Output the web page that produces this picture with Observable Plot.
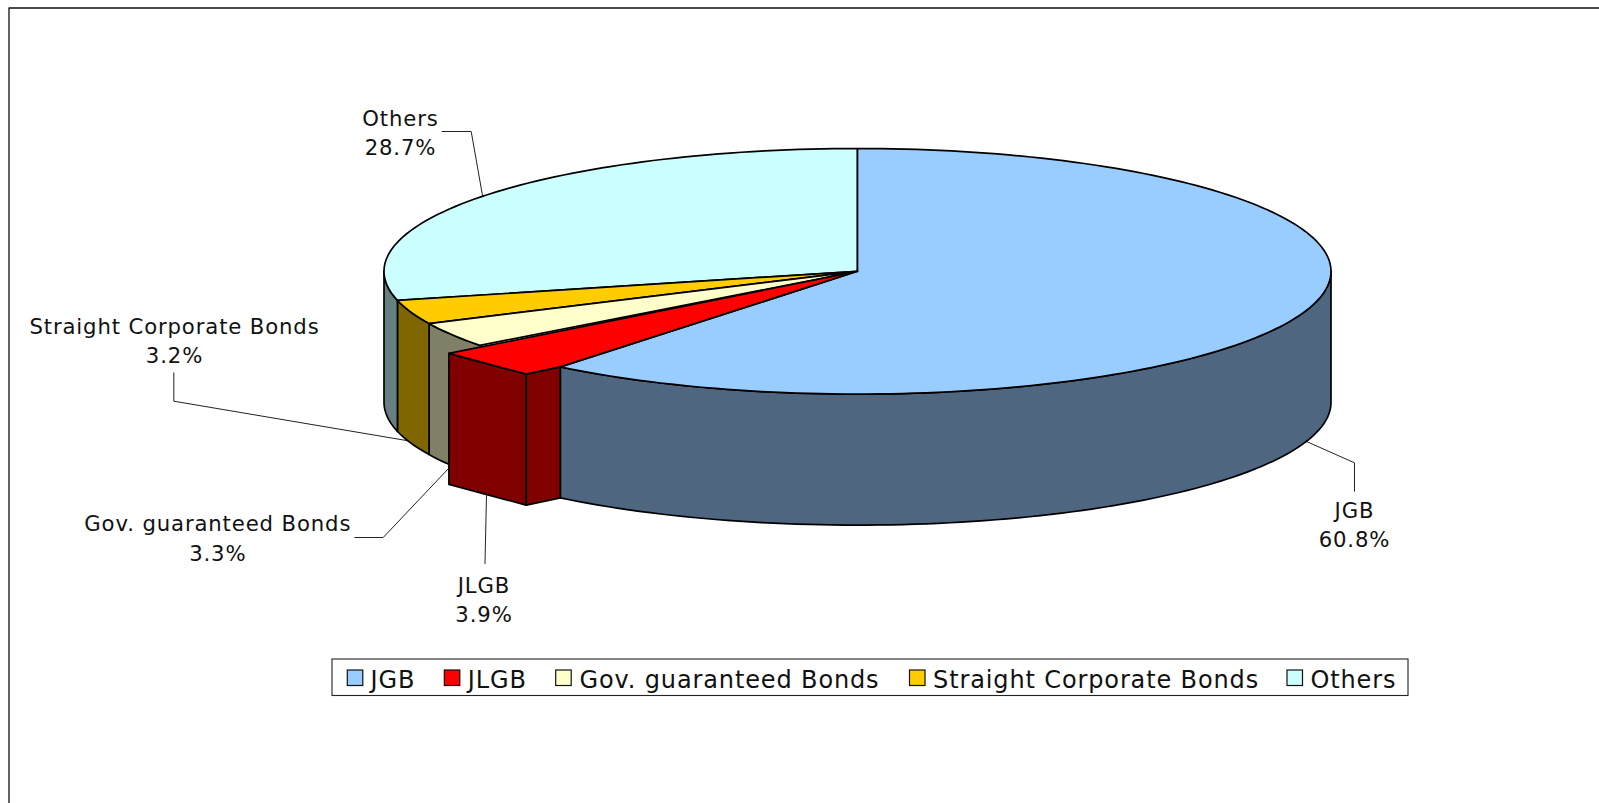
<!DOCTYPE html>
<html>
<head>
<meta charset="utf-8">
<style>
html,body{margin:0;padding:0;background:#fff;overflow:hidden}
svg{display:block}
</style>
<script src="https://cdn.jsdelivr.net/npm/d3@7"></script>
<script src="https://cdn.jsdelivr.net/npm/@observablehq/plot@0.6"></script>
</head>
<body>
<div id="chart"></div>
<script>
// ---- data ----
const categories = ["JGB", "JLGB", "Gov. guaranteed Bonds", "Straight Corporate Bonds", "Others"];
const shares = [60.8, 3.9, 3.3, 3.2, 28.7];
const topColors = ["#99CCFF", "#FF0000", "#FFFFCC", "#FFCC00", "#CCFFFF"];
const sideColors = ["#4F6680", "#800000", "#808066", "#806600", "#668080"];

// ---- layout (pixels of the 1599x803 picture) ----
const W = 1599, H = 803;
const pieLeft = 383.5, pieRight = 1330.5, pieTop = 148, pieBottom = 393.6, pieDepth = 131;
const depthU = pieDepth / ((pieBottom - pieTop) / 2);
const explode = {dx: -0.097, dy: -0.09, r: 0.96};

const labelFont = 21.2, legendFont = 24;
const fontFamily = "'DejaVu Sans', Verdana, sans-serif";
const labelPlace = [
  {cx: 1354, y1: 517.3, y2: 546.7, leader: [[1306, 441], [1354, 462.3], [1354, 490.7]]},
  {cx: 483.5, y1: 592, y2: 621, leader: [[486, 495], [484.5, 563]]},
  {cx: 217.3, y1: 530.7, y2: 560, leader: [[354.3, 537], [382.7, 537], [449.3, 466.7]]},
  {cx: 174, y1: 333.3, y2: 362.7, leader: [[173.3, 372.3], [173.3, 400.7], [410, 440.7]]},
  {cx: 400, y1: 125, y2: 154, leader: [[441.7, 131], [470.7, 131], [482.3, 196.7]]}
];
const legendBox = {x1: 332, x2: 1408, y1: 659, y2: 695.5};
const legendPlace = [
  {sw: 347.3, tx: 370},
  {sw: 444.3, tx: 467.3},
  {sw: 555.7, tx: 579},
  {sw: 909.5, tx: 932.6},
  {sw: 1287, tx: 1310}
];
const legendSwatch = 15.5, legendSwatchTop = 670, legendBaseline = 687.7;

// ---- geometry in unit-ellipse coordinates, drawn through the x and y scales ----
const cum = d3.cumsum(shares);
const angle = v => (v / 100) * 2 * Math.PI;
const slices = categories.map((name, i) => ({
  name, i,
  a0: angle(i ? cum[i - 1] : 0),
  a1: i === categories.length - 1 ? 2 * Math.PI : angle(cum[i])
}));
const on = a => ({x: Math.sin(a), y: Math.cos(a)});
const arc = (a0, a1) => {
  const n = Math.max(2, Math.ceil(Math.abs(a1 - a0) / 0.025));
  return d3.range(n + 1).map(k => on(a0 + (a1 - a0) * k / n));
};
const down = p => ({x: p.x, y: p.y - depthU});
const U = px => -1 + 2 * (px - pieLeft) / (pieRight - pieLeft);
const V = py => 1 - 2 * (py - pieTop) / (pieBottom - pieTop);
const P = ([x, y]) => ({x: U(x), y: V(y)});

const face = (pts, fill, strokeWidth = 1.7) =>
  Plot.line([...pts, pts[0]], {
    x: "x", y: "y", fill, stroke: "#000", strokeWidth,
    strokeLinejoin: "round", curve: "linear"
  });

const wall = (a0, a1, fill) => {
  const top = arc(a0, a1);
  return face([...top, ...top.slice().reverse().map(down)], fill);
};
const topFace = (s) => face([{x: 0, y: 0}, ...arc(s.a0, s.a1)], topColors[s.i]);

const [jgb, jlgb, gov, corp, others] = slices;
const shifted = a => {
  const p = on(a);
  return {x: explode.r * p.x + explode.dx, y: explode.r * p.y + explode.dy};
};
const redA = shifted(jlgb.a1), redB = shifted(jlgb.a0), redJoin = on(jlgb.a0);

const marks = [
  // chart-area border
  Plot.line([[8.5, H], [8.5, 7.5], [W, 7.5]].map(P), {x: "x", y: "y", stroke: "#111", strokeWidth: 1.3}),
  // leaders
  ...labelPlace.map(l => Plot.line(l.leader.map(P), {x: "x", y: "y", stroke: "#222", strokeWidth: 1})),
  // side walls of the pie (only the visible front half)
  wall(Math.PI / 2, jgb.a1, sideColors[0]),
  wall(gov.a0, gov.a1, sideColors[2]),
  wall(corp.a0, corp.a1, sideColors[3]),
  wall(others.a0, 1.5 * Math.PI, sideColors[4]),
  // top faces
  topFace(others), topFace(corp), topFace(gov), topFace(jgb),
  // the pulled-out JLGB slice
  face([redA, redB, down(redB), down(redA)], sideColors[1]),
  face([redB, redJoin, down(redJoin), down(redB)], sideColors[1]),
  face([{x: 0, y: 0}, redA, redB, redJoin], topColors[1]),
  // data labels
  Plot.text(categories.map((c, i) => ({...P([labelPlace[i].cx, labelPlace[i].y1]), t: c})), {
    x: "x", y: "y", text: "t", textAnchor: "middle", lineAnchor: "bottom",
    fontSize: labelFont, fontFamily, fill: "#111"
  }),
  Plot.text(shares.map((v, i) => ({...P([labelPlace[i].cx, labelPlace[i].y2]), t: v.toFixed(1) + "%"})), {
    x: "x", y: "y", text: "t", textAnchor: "middle", lineAnchor: "bottom",
    fontSize: labelFont, fontFamily, fill: "#111"
  }),
  // legend
  Plot.rect([legendBox], {
    x1: d => U(d.x1), x2: d => U(d.x2), y1: d => V(d.y1), y2: d => V(d.y2),
    fill: "#fff", stroke: "#222", strokeWidth: 1.1
  }),
  Plot.rect(legendPlace.map((l, i) => ({...l, c: topColors[i]})), {
    x1: d => U(d.sw), x2: d => U(d.sw + legendSwatch),
    y1: () => V(legendSwatchTop), y2: () => V(legendSwatchTop + legendSwatch),
    fill: d => d.c, stroke: "#111", strokeWidth: 1.2
  }),
  Plot.text(categories.map((c, i) => ({...P([legendPlace[i].tx, legendBaseline]), t: c})), {
    x: "x", y: "y", text: "t", textAnchor: "start", lineAnchor: "bottom",
    fontSize: legendFont, fontFamily, fill: "#111"
  })
];

const chart = Plot.plot({
  width: W, height: H,
  marginTop: 0, marginRight: 0, marginBottom: 0, marginLeft: 0,
  x: {type: "linear", domain: [-1, 1], range: [pieLeft, pieRight], axis: null},
  y: {type: "linear", domain: [1, -1], range: [pieTop, pieBottom], axis: null},
  color: {type: "identity"},
  style: {background: "#fff", overflow: "hidden", letterSpacing: "0.87px"},
  marks
});
document.getElementById("chart").appendChild(chart);
</script>
</body>
</html>
